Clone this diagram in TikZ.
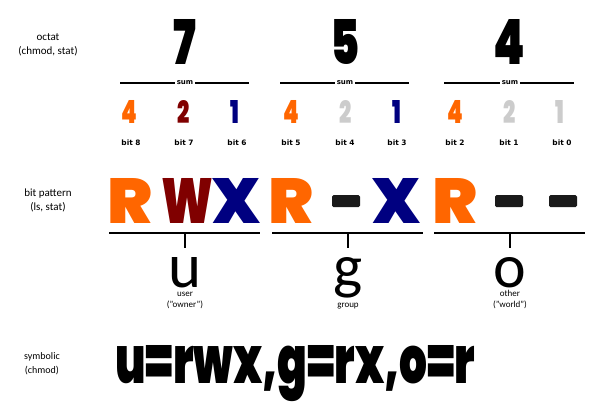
\documentclass[tikz,border=0pt]{standalone}
\usepackage{fontspec}
\usepackage{graphicx}
\setmainfont{Carlito}
\newfontfamily\widefont{Poppins Black}
\newfontfamily\lblfont{DejaVu Sans}
\usetikzlibrary{positioning}

\definecolor{permR}{HTML}{FF6600}
\definecolor{permW}{HTML}{800000}
\definecolor{permX}{HTML}{000080}
\definecolor{permOff}{HTML}{CCCCCC}
\definecolor{dashgray}{HTML}{1A1A1A}

\newcommand{\octnum}[1]{\resizebox{!}{45pt}{\scalebox{0.72}[1]{\widefont #1}}}
\newcommand{\bitnum}[1]{\resizebox{!}{23pt}{\scalebox{0.7}[1]{\widefont #1}}}
\newcommand{\permch}[2]{\resizebox{#1}{45pt}{\widefont #2}}
\newcommand{\whoch}[1]{\resizebox{!}{30pt}{#1}}

\begin{document}
\begin{tikzpicture}[
    x=1pt, y=-1pt,
    side/.style={align=center, font=\fontsize{11}{14}\selectfont},
    octal/.style={inner sep=0pt, anchor=base},
    bitval/.style={inner sep=0pt, anchor=base},
    bitlbl/.style={inner sep=0pt, anchor=base, font=\fontsize{7.4}{8}\lblfont\bfseries},
    sumlbl/.style={inner sep=1.5pt, font=\fontsize{7}{8}\lblfont\bfseries},
    sumline/.style={line width=1.6pt},
    perm/.style={inner sep=0pt, anchor=base},
    nobit/.style={fill=dashgray, rounded corners=1.5pt, minimum width=28pt, minimum height=12pt, inner sep=0pt},
    brk/.style={line width=2.2pt},
    who/.style={inner sep=0pt, anchor=base},
    whonote/.style={inner sep=0pt, anchor=base, align=center, font=\fontsize{9}{10.5}\selectfont}
  ]
  \useasboundingbox (0,0) rectangle (598,405);

  \node[side] (octat) at (48,45) {octat\\(chmod, stat)};
  \node[side] (bitpat) at (48,200) {bit pattern\\(ls, stat)};
  \node[side, font=\fontsize{10}{14}\selectfont] (symb) at (42,364) {symbolic\\(chmod)};

  \node[octal] (o7) at (185,64) {\octnum{7}};
  \node[octal] (o5) at (345,64) {\octnum{5}};
  \node[octal] (o4) at (509,64) {\octnum{4}};

  \node[sumlbl] (sum1) at (185,83) {sum};
  \node[sumlbl] (sum2) at (345,83) {sum};
  \node[sumlbl] (sum3) at (510,83) {sum};
  \coordinate (sumL1) at (120,83);
  \coordinate (sumR1) at (249,83);
  \coordinate (sumL2) at (280,83);
  \coordinate (sumR2) at (409,83);
  \coordinate (sumL3) at (444,83);
  \coordinate (sumR3) at (574,83);
  \draw[sumline] (sumL1) -- (sum1.west);
  \draw[sumline] (sum1.east) -- (sumR1);
  \draw[sumline] (sumL2) -- (sum2.west);
  \draw[sumline] (sum2.east) -- (sumR2);
  \draw[sumline] (sumL3) -- (sum3.west);
  \draw[sumline] (sum3.east) -- (sumR3);

  \node[bitval, permR] (v8) at (129,123) {\bitnum{4}};
  \node[bitval, permW] (v7) at (184,123) {\bitnum{2}};
  \node[bitval, permX] (v6) at (235,123) {\bitnum{1}};
  \node[bitval, permR] (v5) at (291,123) {\bitnum{4}};
  \node[bitval, permOff] (v4) at (346,123) {\bitnum{2}};
  \node[bitval, permX] (v3) at (397,123) {\bitnum{1}};
  \node[bitval, permR] (v2) at (455,123) {\bitnum{4}};
  \node[bitval, permOff] (v1) at (510,123) {\bitnum{2}};
  \node[bitval, permOff] (v0) at (560,123) {\bitnum{1}};

  \node[bitlbl] (l8) at (131,145) {bit 8};
  \node[bitlbl] (l7) at (184,145) {bit 7};
  \node[bitlbl] (l6) at (237,145) {bit 6};
  \node[bitlbl] (l5) at (291,145) {bit 5};
  \node[bitlbl] (l4) at (345,145) {bit 4};
  \node[bitlbl] (l3) at (397,145) {bit 3};
  \node[bitlbl] (l2) at (455,145) {bit 2};
  \node[bitlbl] (l1) at (509,145) {bit 1};
  \node[bitlbl] (l0) at (562,145) {bit 0};

  \node[perm, permR] (p8) at (130,223) {\permch{45pt}{R}};
  \node[perm, permW] (p7) at (187,223) {\permch{52pt}{W}};
  \node[perm, permX] (p6) at (237,223) {\permch{48pt}{X}};
  \node[perm, permR] (p5) at (291,223) {\permch{45pt}{R}};
  \node[nobit] (p4) at (346,201) {};
  \node[perm, permX] (p3) at (397,223) {\permch{48pt}{X}};
  \node[perm, permR] (p2) at (455,223) {\permch{45pt}{R}};
  \node[nobit] (p1) at (509,201) {};
  \node[nobit] (p0) at (563,201) {};

  \coordinate (bl1) at (109,233);
  \coordinate (br1) at (260,233);
  \coordinate (bl2) at (272,233);
  \coordinate (br2) at (423,233);
  \coordinate (bl3) at (434,233);
  \coordinate (br3) at (585,233);
  \coordinate (tk1) at (185,233);
  \coordinate (tk2) at (348,233);
  \coordinate (tk3) at (510,233);
  \coordinate (te1) at (185,248);
  \coordinate (te2) at (348,248);
  \coordinate (te3) at (510,248);
  \draw[brk] (bl1) -- (br1);
  \draw[brk] (bl2) -- (br2);
  \draw[brk] (bl3) -- (br3);
  \draw[brk] (tk1) -- (te1);
  \draw[brk] (tk2) -- (te2);
  \draw[brk] (tk3) -- (te3);

  \node[who] (u) at (185,287) {\whoch{u}};
  \node[who] (g) at (348,287) {\whoch{g}};
  \node[who] (o) at (510,287) {\whoch{o}};
  \node[whonote] (user) at (185,307) {user\\("owner")};
  \node[whonote] (group) at (348,307) {group};
  \node[whonote] (other) at (510,307) {other\\("world")};

  \node[inner sep=0pt, anchor=base west] (sym) at (115,383) {\resizebox{360pt}{38pt}{\widefont u=rwx,g=rx,o=r}};
\end{tikzpicture}
\end{document}
